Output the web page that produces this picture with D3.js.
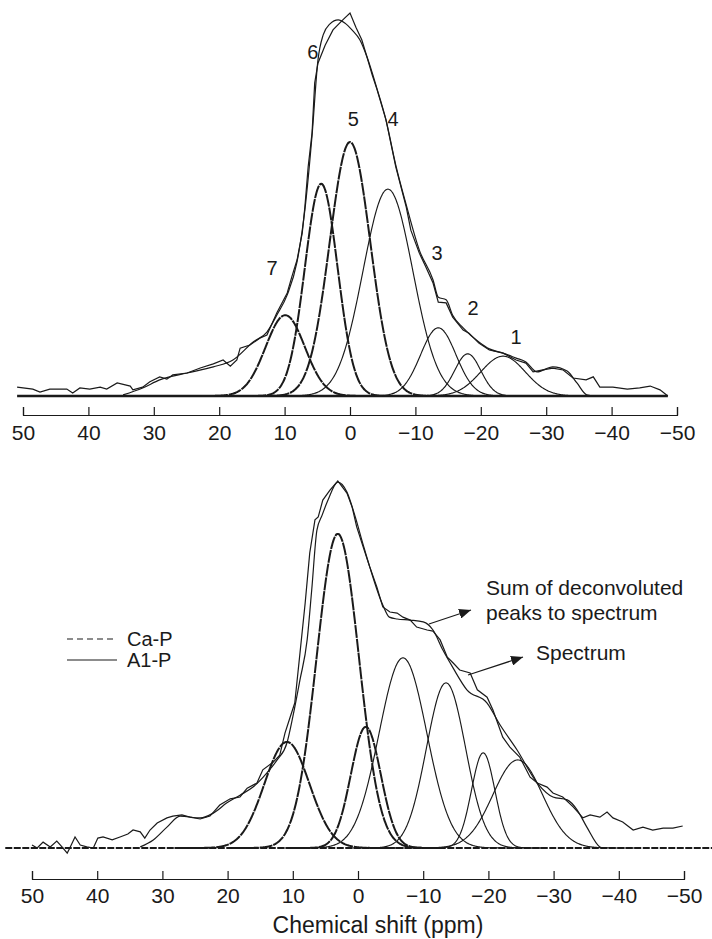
<!DOCTYPE html>
<html>
<head>
<meta charset="utf-8">
<script src="https://d3js.org/d3.v7.min.js"></script>
<style>
  body { margin: 0; background: #fff; }
  text { font-family: "Liberation Sans", Arial, sans-serif; fill: #1a1a1a; }
  .axis path, .axis line { stroke: #1a1a1a; stroke-width: 1.2; }
  .axis text { font-size: 21px; font-family: "Liberation Sans", Arial, sans-serif; }
</style>
</head>
<body>
<svg id="chart"></svg>
<script>
// tick labels of both chemical shift axes
const ppmTicks = [50, 40, 30, 20, 10, 0, -10, -20, -30, -40, -50];

// ---- top panel ----
// measured spectrum, [ppm, intensity]
const topSpectrum = [
  [50.9, 2.3], [48.5, 1.8], [47.4, 1.0], [45.9, 1.8], [43.3, 1.8], [42.4, 0.8], [41.3, 2.1],
  [39.8, 1.8], [38.2, 2.3], [37.2, 1.8], [35.6, 3.4], [33.6, 2.6], [33.2, 1.6], [31.7, 2.3],
  [30.6, 3.7], [29.1, 5.0], [28.0, 4.4], [27.1, 5.5], [24.9, 6.0], [22.9, 7.3], [20.9, 8.4],
  [19.4, 9.4], [18.3, 7.8], [17.3, 9.4], [16.8, 12.5], [15.3, 13.3], [13.8, 15.1], [12.7, 15.9],
  [11.2, 21.7], [9.6, 26.9], [8.9, 31.1], [8.1, 35.5], [7.3, 42.6], [6.9, 49.3], [6.4, 59.8],
  [5.8, 68.7], [5.4, 81.7], [4.9, 86.9], [3.8, 91.6], [2.6, 95.6], [1.1, 98.2], [0.0, 100],
  [-0.9, 96.3], [-1.8, 93.0], [-2.6, 88.5], [-3.4, 83.8], [-4.1, 80.2], [-5.5, 72.1], [-7.0, 59.8],
  [-8.6, 49.3], [-9.3, 43.3], [-10.6, 37.3], [-11.6, 33.7], [-12.7, 29.5], [-13.5, 24.5],
  [-14.7, 24.3], [-15.7, 20.6], [-17.3, 17.2], [-18.2, 16.4], [-19.7, 13.8], [-21.3, 12.0],
  [-23.4, 11.2], [-25.4, 9.4], [-26.9, 8.6], [-28.0, 6.3], [-29.5, 6.8], [-31.0, 7.3],
  [-32.6, 6.8], [-34.1, 4.7], [-36.1, 4.2], [-37.2, 5.0], [-38.2, 2.3], [-40.2, 2.3],
  [-42.4, 1.8], [-44.3, 2.1], [-45.9, 2.6], [-47.4, 1.6], [-48.6, 0]
];
// sum of deconvoluted peaks
const topSum = [
  [34.7, 0.3], [31.7, 2.1], [29.1, 4.2], [24.9, 6.0], [20.9, 7.6], [17.9, 9.4], [14.8, 14.1],
  [12.7, 16.7], [11.2, 21.1], [9.6, 26.4], [8.1, 35.0], [6.9, 48.6], [5.8, 68.1], [4.9, 87.7],
  [4.1, 94.3], [3.1, 97.1], [1.8, 98.2], [0.8, 97.4], [-0.3, 95.6], [-1.5, 93.0], [-2.6, 88.5],
  [-4.1, 80.4], [-5.5, 72.1], [-7.0, 60.3], [-8.6, 49.9], [-10.6, 38.1], [-12.7, 30.3],
  [-13.5, 25.8], [-14.7, 25.1], [-15.7, 21.1], [-17.3, 17.8], [-19.7, 14.1], [-21.3, 12.3],
  [-23.4, 11.2], [-25.4, 9.9], [-26.9, 8.9], [-28.6, 6.3], [-31.0, 7.6], [-33.2, 6.5],
  [-34.7, 3.4], [-36.2, 0.3], [-37.5, 0]
];
// deconvoluted peaks
const topPeakNames   = ["1", "2", "3", "4", "5", "6", "7"];
const topPeakCenters = [-23.4, -18.0, -13.5, -5.8, 0.0, 4.4, 9.9];
const topPeakHeights = [10.4, 11.0, 17.8, 54.0, 66.3, 55.4, 21.1];
const topPeakSigmas  = [3.4, 2.0, 2.7, 3.8, 3.1, 2.5, 3.0];
const topPeakTypes   = ["A1-P", "A1-P", "A1-P", "A1-P", "Ca-P", "Ca-P", "Ca-P"];
// where the peak numbers stand, [ppm, intensity]
const topLabelPos = [[-25.4, 15.4], [-18.8, 23.0], [-13.3, 37.3], [-6.6, 72.3], [-0.5, 72.3], [5.7, 89.8], [11.9, 33.4]];

// ---- bottom panel ----
const botSpectrum = [
  [50.0, 0.8], [49.2, 0], [48.3, 1.6], [47.2, 0.3], [46.2, 1.9], [45.4, 0.3], [44.6, -1.4],
  [44.2, 0], [43.4, 3.0], [42.6, 0.8], [41.6, 0.3], [40.6, 0], [39.9, 2.7], [39.1, 3.0],
  [37.7, 2.2], [36.5, 3.0], [35.3, 3.8], [34.5, 4.9], [33.4, 4.4], [32.7, 2.7], [31.9, 4.9],
  [30.8, 6.8], [29.3, 8.2], [28.4, 8.7], [27.0, 9.0], [25.8, 8.4], [24.2, 7.9], [22.7, 8.7],
  [21.2, 11.7], [19.6, 13.4], [18.1, 13.9], [17.0, 16.3], [15.5, 17.7], [14.6, 21.3],
  [13.0, 23.4], [12.0, 25.3], [11.2, 31.3], [10.4, 35.7], [9.7, 39.5], [8.9, 53.1], [8.1, 66.8],
  [7.4, 80.4], [6.6, 89.4], [6.1, 90.2], [5.4, 94.8], [4.3, 97.5], [3.1, 100], [1.7, 96.7],
  [0.9, 92.9], [0.2, 87.5], [-0.8, 82.0], [-1.8, 76.6], [-2.9, 71.1], [-3.8, 65.7], [-4.9, 64.3],
  [-6.0, 64.0], [-6.9, 62.9], [-8.0, 62.1], [-9.0, 60.2], [-10.6, 59.4], [-11.5, 59.1],
  [-12.6, 56.7], [-13.7, 52.0], [-14.6, 50.4], [-15.6, 48.5], [-17.2, 47.7], [-18.3, 43.1],
  [-19.8, 41.1], [-20.7, 37.6], [-22.2, 30.2], [-23.3, 27.5], [-24.8, 24.8], [-26.4, 19.3],
  [-27.5, 17.7], [-29.0, 16.6], [-29.9, 15.0], [-31.4, 13.9], [-33.0, 11.2], [-34.5, 8.2],
  [-35.6, 9.0], [-37.1, 8.4], [-38.2, 9.8], [-39.1, 8.2], [-40.6, 7.1], [-42.2, 4.9],
  [-43.7, 5.7], [-45.2, 4.9], [-46.8, 5.4], [-48.3, 5.4], [-49.8, 6.0]
];
const botSum = [
  [33.4, 0.3], [31.4, 2.2], [29.3, 5.7], [27.3, 8.7], [24.2, 8.2], [22.2, 9.5], [20.1, 12.3],
  [18.1, 14.4], [16.1, 16.6], [14.0, 20.4], [12.4, 24.0], [10.9, 28.6], [10.0, 35.7], [8.9, 45.8],
  [7.8, 56.7], [7.1, 70.3], [6.3, 86.6], [5.5, 90.7], [4.6, 94.8], [3.1, 99.7], [1.7, 97.0],
  [0.5, 90.7], [-0.8, 82.6], [-1.8, 76.6], [-3.8, 66.2], [-4.8, 62.9], [-6.0, 62.4], [-8.0, 62.1],
  [-10.0, 61.6], [-11.5, 59.4], [-13.0, 54.0], [-14.6, 49.0], [-16.7, 43.1], [-19.8, 39.5],
  [-21.8, 33.5], [-24.4, 26.7], [-27.5, 17.7], [-29.9, 13.9], [-32.1, 13.1], [-33.6, 10.4],
  [-35.1, 5.7], [-37.1, 0.3], [-37.6, 0]
];
const botPeakCenters = [-24.5, -19.2, -13.5, -6.9, -1.2, 3.1, 10.9];
const botPeakHeights = [24.0, 25.9, 45.0, 51.8, 33.0, 85.6, 28.9];
const botPeakSigmas  = [3.8, 1.8, 3.0, 3.65, 2.3, 3.25, 3.45];
const botPeakTypes   = ["A1-P", "A1-P", "A1-P", "A1-P", "Ca-P", "Ca-P", "Ca-P"];

const legendNames = ["Ca-P", "A1-P"];
const annoLines = ["Sum of deconvoluted", "peaks to spectrum"];
const annoSpectrum = "Spectrum";
const xTitle = "Chemical shift (ppm)";

const width = 712, height = 939;
const ink = "#1a1a1a";

let svg = d3.select("#chart")
  .attr("width", width)
  .attr("height", height)
  .style("background", "#fff");

svg.append("defs").append("marker")
  .attr("id", "head")
  .attr("viewBox", "0 0 12 10")
  .attr("refX", 12).attr("refY", 5)
  .attr("markerWidth", 12).attr("markerHeight", 10)
  .attr("markerUnits", "userSpaceOnUse")
  .attr("orient", "auto")
  .append("path")
  .attr("d", "M0,0 L12,5 L0,10 Z")
  .attr("fill", ink);

function peakPoints(c, h, s) {
  return d3.range(c + 5 * s, c - 5 * s, -0.1)
    .map(p => [p, h * Math.exp(-((p - c) ** 2) / (2 * s * s))]);
}

function drawPanel(cfg) {
  const x = d3.scaleLinear().domain([50, -50]).range(cfg.xRange);
  const y = d3.scaleLinear().domain([0, 100]).range(cfg.yRange);
  const g = svg.append("g");

  const rough = d3.line().x(d => x(d[0])).y(d => y(d[1]));
  const smoothLine = d3.line().x(d => x(d[0])).y(d => y(d[1])).curve(d3.curveMonotoneX);

  // baseline
  g.append("line")
    .attr("x1", x(cfg.base[0])).attr("x2", x(cfg.base[1]))
    .attr("y1", y(0)).attr("y2", y(0))
    .attr("stroke", ink)
    .attr("stroke-width", cfg.baseWidth)
    .attr("stroke-dasharray", cfg.baseDash);

  // component peaks (Ca-P heavy with small breaks, A1-P thin)
  cfg.centers.forEach((c, i) => {
    const ca = cfg.types[i] === "Ca-P";
    g.append("path")
      .attr("d", smoothLine(peakPoints(c, cfg.heights[i], cfg.sigmas[i])))
      .attr("fill", "none")
      .attr("stroke", ink)
      .attr("stroke-width", ca ? 2.0 : 1.15)
      .attr("stroke-dasharray", ca ? "13,0.9" : null);
  });

  g.append("path")
    .attr("d", smoothLine(cfg.sum))
    .attr("fill", "none").attr("stroke", ink).attr("stroke-width", 1.2);

  g.append("path")
    .attr("d", rough(cfg.spectrum))
    .attr("fill", "none").attr("stroke", ink).attr("stroke-width", 1.2);

  const axis = d3.axisBottom(x)
    .tickValues(ppmTicks)
    .tickSizeInner(-8)
    .tickSizeOuter(-8)
    .tickPadding(cfg.pad)
    .tickFormat(d3.format("d"));

  svg.append("g")
    .attr("class", "axis")
    .attr("transform", `translate(0, ${cfg.axisY})`)
    .call(axis)
    .call(a => a.selectAll("text").attr("fill", ink));

  return { x, y };
}

const topPanel = drawPanel({
  xRange: [23, 677], yRange: [396, 13],
  base: [50.9, -48.6], baseWidth: 2.6, baseDash: null,
  centers: topPeakCenters, heights: topPeakHeights, sigmas: topPeakSigmas, types: topPeakTypes,
  sum: topSum, spectrum: topSpectrum,
  axisY: 415, pad: 10
});

const botPanel = drawPanel({
  xRange: [32, 684], yRange: [848, 481],
  base: [54.1, -54.3], baseWidth: 2.2, baseDash: "7,1.5",
  centers: botPeakCenters, heights: botPeakHeights, sigmas: botPeakSigmas, types: botPeakTypes,
  sum: botSum, spectrum: botSpectrum,
  axisY: 879, pad: 9
});

// peak numbers in the top panel
svg.append("g").selectAll("text")
  .data(topPeakNames)
  .join("text")
  .attr("x", (d, i) => topPanel.x(topLabelPos[i][0]))
  .attr("y", (d, i) => topPanel.y(topLabelPos[i][1]) + 7)
  .attr("text-anchor", "middle")
  .attr("font-size", 20)
  .text(d => d);

// legend
const legend = svg.append("g");
legendNames.forEach((name, i) => {
  const ly = 639 + i * 21;
  legend.append("line")
    .attr("x1", 67).attr("x2", 117).attr("y1", ly).attr("y2", ly)
    .attr("stroke", ink).attr("stroke-width", 1.2)
    .attr("stroke-dasharray", name === "Ca-P" ? "6,4" : null);
  legend.append("text")
    .attr("x", 127).attr("y", ly + 7)
    .attr("font-size", 20)
    .text(name);
});

// annotations with arrows
svg.append("g").selectAll("text")
  .data(annoLines)
  .join("text")
  .attr("x", 486).attr("y", (d, i) => 595 + i * 25)
  .attr("font-size", 21)
  .text(d => d);
svg.append("text")
  .attr("x", 536).attr("y", 660)
  .attr("font-size", 21)
  .text(annoSpectrum);

svg.append("line")
  .attr("x1", 429).attr("y1", 624).attr("x2", 471).attr("y2", 610)
  .attr("stroke", ink).attr("stroke-width", 1.2)
  .attr("marker-end", "url(#head)");
svg.append("line")
  .attr("x1", 468).attr("y1", 675).attr("x2", 523).attr("y2", 657)
  .attr("stroke", ink).attr("stroke-width", 1.2)
  .attr("marker-end", "url(#head)");

// x title
svg.append("text")
  .attr("x", 378).attr("y", 933)
  .attr("text-anchor", "middle")
  .attr("font-size", 23)
  .text(xTitle);
</script>
</body>
</html>
